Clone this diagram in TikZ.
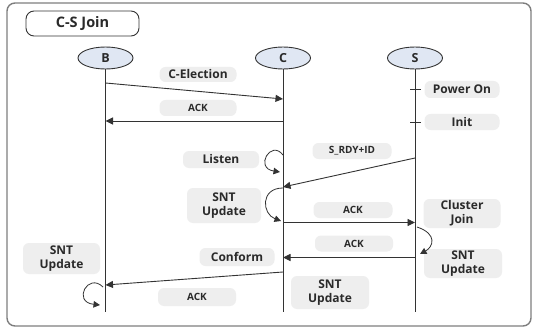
\documentclass[tikz,border=0pt]{standalone}
\usepackage{fontspec}
\setmainfont{Open Sans}
\usetikzlibrary{arrows.meta,shapes.geometric}
\definecolor{ln}{HTML}{333333}
\definecolor{lblfill}{HTML}{EEEEEE}
\definecolor{ellfill}{HTML}{E0E7F3}
\definecolor{txt}{HTML}{2A2A2A}
\definecolor{framec}{HTML}{7E7E7E}
\begin{document}
\begin{tikzpicture}[x=1pt,y=-1pt,
  lbl/.style={fill=lblfill, rounded corners=6pt, inner xsep=1pt, inner ysep=0pt, minimum width=77pt, minimum height=16pt,
    font=\fontsize{12}{14}\selectfont\bfseries, text=txt, align=center},
  smalllbl/.style={lbl, font=\fontsize{10}{11}\selectfont\bfseries, minimum height=16pt},
  actor/.style={ellipse, draw=ln, line width=0.9pt, fill=ellfill, minimum width=55pt, minimum height=22pt,
    inner sep=0pt, font=\fontsize{12.5}{14}\selectfont\bfseries, text=txt},
  lifeline/.style={draw=ln, line width=0.9pt},
  msg/.style={draw=ln, line width=0.9pt, -{Triangle[length=7.5pt,width=7pt]}},
  selfloop/.style={draw=ln, line width=0.8pt, -{Triangle[length=6.5pt,width=6.5pt]}},
  tick/.style={draw=ln, line width=0.9pt}
]
\useasboundingbox (0,0) rectangle (536,329);
% outer frame
\draw[framec, line width=1.4pt, rounded corners=8pt, fill=white] (7,3) rectangle (531,326);
% title
\node[draw=ln, line width=0.9pt, rounded corners=8pt, minimum width=113pt, minimum height=25pt,
  font=\fontsize{14.5}{16}\selectfont\bfseries, text=txt] (title) at (82.5,23.5) {C-S Join};

% actors
\node[actor] (B) at (105.5,58) {B};
\node[actor] (C) at (283,58) {C};
\node[actor] (S) at (415,58) {S};
\coordinate (Bend) at (105.5,312);
\coordinate (Cend) at (283,312);
\coordinate (Send) at (415,312);
\draw[lifeline] (B.south) -- (Bend);
\draw[lifeline] (C.south) -- (Cend);
\draw[lifeline] (S.south) -- (Send);

% coordinates on lifelines
\coordinate (b1) at (105.5,83);  \coordinate (c1) at (283,99);
\coordinate (c2) at (283,121);   \coordinate (b2) at (105.5,121);
\coordinate (s3) at (415,158);   \coordinate (c3) at (283,187);
\coordinate (c4) at (283,222.5); \coordinate (s4) at (415,222.5);
\coordinate (s5) at (415,257.5); \coordinate (c5) at (283,257.5);
\coordinate (c6) at (283,272);   \coordinate (b6) at (105.5,285);
\coordinate (tp1) at (410,89);   \coordinate (tp2) at (421,89);
\coordinate (ti1) at (410,122);  \coordinate (ti2) at (421,122);

% labels
\node[lbl, minimum height=15pt] (lElect) at (198,74.5) {C-Election};
\node[smalllbl] (lAck1) at (198,108) {ACK};
\node[lbl, minimum width=75pt, minimum height=17pt] (lPower) at (462,89.5) {Power On};
\node[lbl, minimum width=75pt, minimum height=16pt] (lInit) at (462,122) {Init};
\node[lbl, minimum width=76pt, minimum height=17pt] (lListen) at (221,159.5) {Listen};
\node[smalllbl, minimum width=79pt] (lRdy) at (352,151) {S\_RDY+ID};
\node[lbl, minimum width=74pt, minimum height=35pt] (lSnt1) at (224,205.5) {SNT\\Update};
\node[smalllbl, minimum width=79pt] (lAck2) at (353,210) {ACK};
\node[lbl, minimum height=29pt] (lCluster) at (462,213.5) {Cluster\\Join};
\node[smalllbl, minimum width=78pt] (lAck3) at (354,243.5) {ACK};
\node[lbl, minimum width=78pt, minimum height=29pt] (lSnt2) at (463,263.5) {SNT\\Update};
\node[lbl, minimum width=75pt, minimum height=18pt] (lConform) at (237,257) {Conform};
\node[smalllbl, minimum width=78pt, minimum height=18pt] (lAck4) at (197,297) {ACK};
\node[lbl, minimum height=31pt] (lSnt3) at (61.5,258.5) {SNT\\Update};
\node[lbl, minimum width=78pt, minimum height=33pt] (lSnt4) at (330,292.5) {SNT\\Update};

% messages
\draw[msg] (b1) -- (c1);
\draw[msg] (c2) -- (b2);
\draw[tick] (tp1) -- (tp2);
\draw[tick] (ti1) -- (ti2);
\draw[msg] (s3) -- (c3);
\draw[msg] (c4) -- (s4);
\draw[msg] (s5) -- (c5);
\draw[msg] (c6) -- (b6);

% self loops
\coordinate (la) at (283,155); \coordinate (lb) at (280,172);
\draw[selfloop] (la) .. controls (271,139) and (254,168) .. (lb);
\coordinate (sa) at (283,188); \coordinate (sb) at (281,221);
\draw[selfloop] (sa) .. controls (260,188) and (262,214) .. (sb);
\coordinate (ka) at (417,227); \coordinate (kb) at (420,254);
\draw[selfloop] (ka) .. controls (438,234) and (433,247) .. (kb);
\coordinate (ma) at (103,287); \coordinate (mb) at (100,305);
\draw[selfloop] (ma) .. controls (88,272) and (72,302) .. (mb);
\end{tikzpicture}
\end{document}
